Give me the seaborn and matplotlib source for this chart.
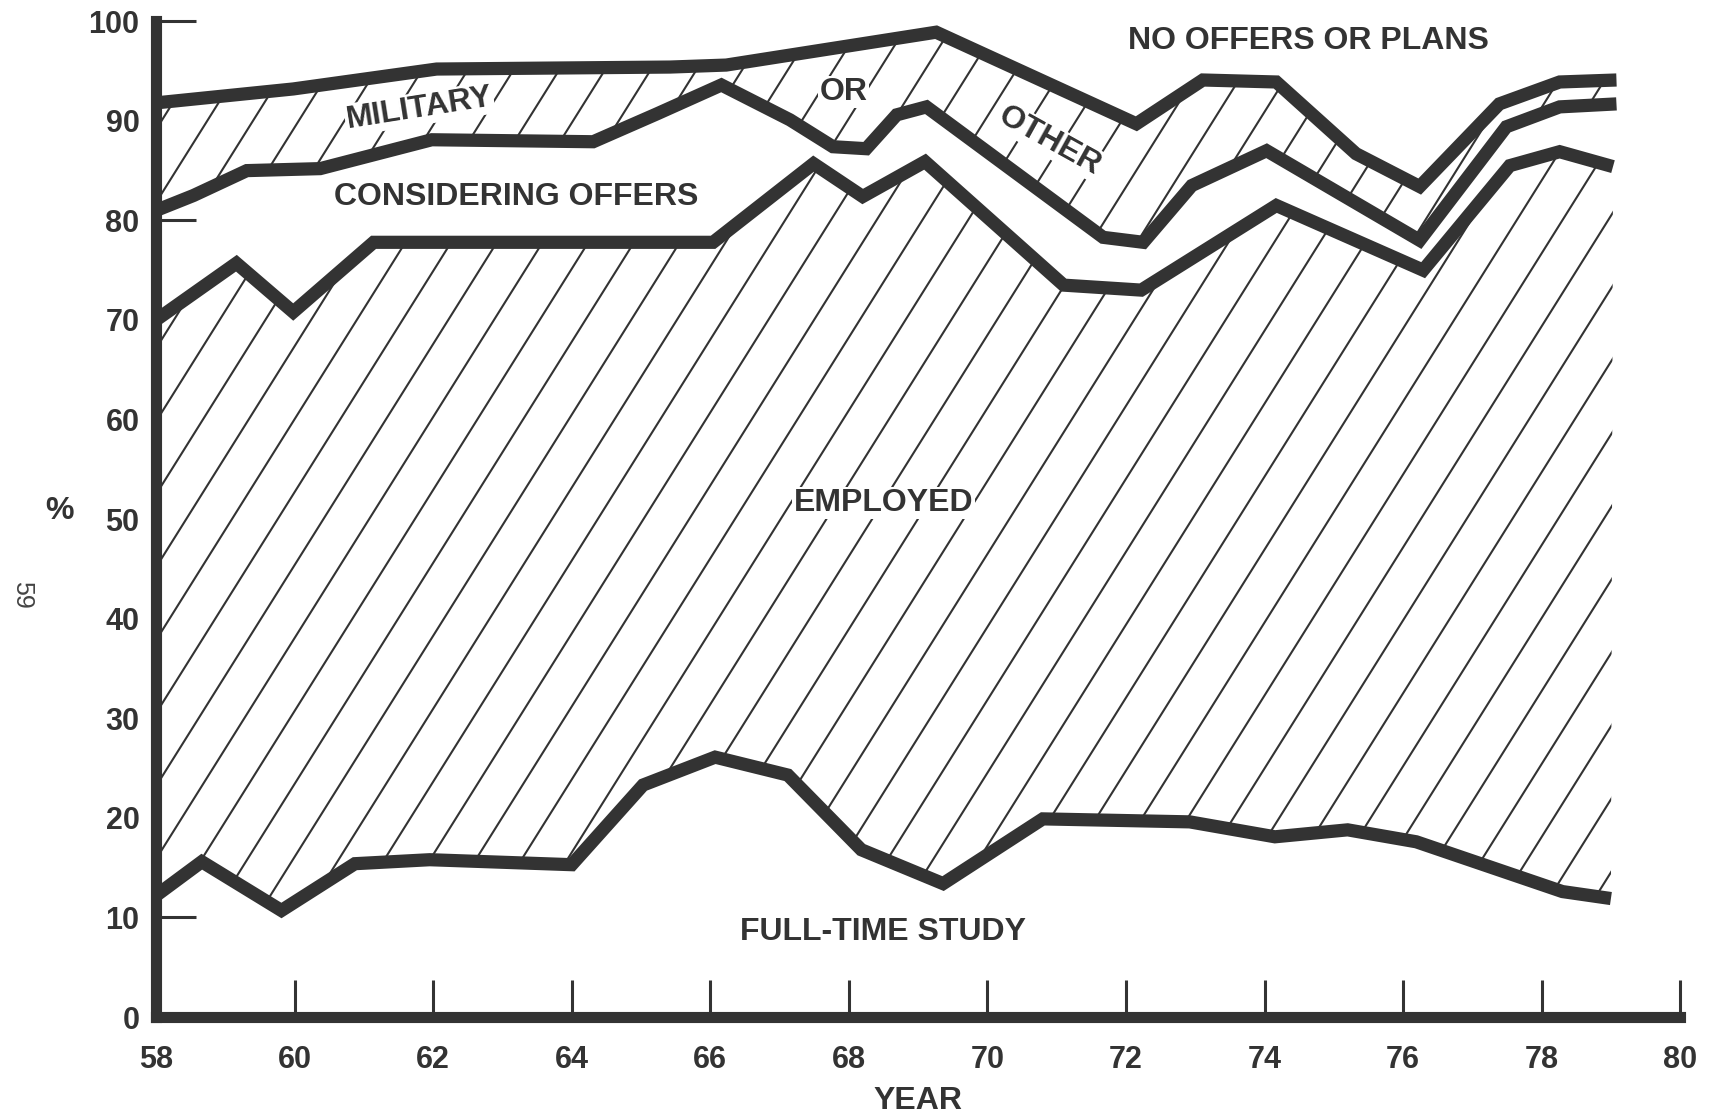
import numpy as np
import matplotlib
matplotlib.use("Agg")
import matplotlib.pyplot as plt
import seaborn as sns
from matplotlib.collections import LineCollection

# boundary lines: (year, cumulative %)
study_year = [58.0, 58.66, 59.81, 60.87, 61.95, 64.0, 65.03, 66.07, 67.12, 68.18,
              69.36, 70.8, 72.92, 74.15, 75.2, 76.19, 78.3, 79.0]
study_pct = [12.2, 15.6, 10.7, 15.4, 15.8, 15.3, 23.3, 26.1, 24.3, 16.8,
             13.4, 19.9, 19.6, 18.1, 18.8, 17.6, 12.6, 11.9]

employed_year = [58.0, 59.16, 59.98, 61.14, 66.04, 67.49, 68.2, 69.1, 71.1, 72.22,
                 74.17, 76.29, 77.54, 78.26, 79.03]
employed_pct = [70.0, 75.7, 70.8, 77.8, 77.8, 85.7, 82.4, 85.9, 73.5, 73.0,
                81.5, 75.0, 85.5, 86.9, 85.4]

offers_year = [58.0, 58.54, 59.31, 60.37, 61.98, 64.31, 65.23, 66.16, 67.15, 67.77,
               68.25, 68.69, 69.12, 71.67, 72.25, 72.95, 74.03, 76.24, 77.49, 78.26, 79.08]
offers_pct = [81.0, 82.5, 85.0, 85.2, 88.1, 87.9, 90.7, 93.6, 90.1, 87.4,
              87.2, 90.6, 91.4, 78.3, 77.8, 83.5, 87.0, 78.0, 89.4, 91.4, 91.7]

top_year = [58.0, 59.98, 62.05, 65.42, 66.23, 69.26, 72.15, 73.11, 74.17, 75.32,
            76.24, 77.39, 78.26, 79.08]
top_pct = [91.8, 93.2, 95.2, 95.4, 95.6, 98.9, 89.7, 94.1, 93.9, 86.7,
           83.4, 91.7, 93.9, 94.1]

year_ticks = list(range(58, 81, 2))
pct_ticks = list(range(0, 101, 10))

ink = "#333333"

sns.set_theme(style="white")
plt.rcParams["font.family"] = ["Liberation Sans", "DejaVu Sans"]

fig = plt.figure(figsize=(17.11, 11.18), dpi=100)
ax = fig.add_axes([0.0912, 0.0903, 0.8908, 0.8907])

# hatched bands: employed and military/other
bands = [
    (employed_year, employed_pct, study_year, study_pct),
    (top_year, top_pct, offers_year, offers_pct),
]
slope = 11.1      # % per year, gives the steep hand-drawn hatch
step = 0.66
starts = np.arange(58 - 100 / slope - 1, 81, step)
for up_x, up_y, lo_x, lo_y in bands:
    poly = ax.fill(np.r_[up_x, lo_x[::-1]], np.r_[up_y, lo_y[::-1]],
                   facecolor="white", edgecolor="none", zorder=1)[0]
    segs = [[(s, 0), (s + 100 / slope, 100)] for s in starts]
    lc = LineCollection(segs, colors=ink, linewidths=1.5, zorder=2)
    ax.add_collection(lc)
    lc.set_clip_path(poly)

for xs, ys in [(study_year, study_pct), (employed_year, employed_pct),
               (offers_year, offers_pct), (top_year, top_pct)]:
    sns.lineplot(x=xs, y=ys, ax=ax, sort=False, estimator=None, color=ink,
                 linewidth=9.5, zorder=4)
for line in ax.lines:
    line.set_solid_capstyle("butt")
    line.set_solid_joinstyle("miter")

ax.set_xlim(58, 80)
ax.set_ylim(0, 100)
ax.set_xticks(year_ticks)
ax.set_yticks(pct_ticks)
ax.set_xticklabels([str(t) for t in year_ticks])
ax.set_yticklabels([str(t) for t in pct_ticks])
ax.tick_params(axis="y", left=True, direction="in", length=29, width=2.2, color=ink,
               pad=12, labelsize=22, labelcolor=ink)
ax.tick_params(axis="x", bottom=True, direction="in", length=27, width=2.2, color=ink,
               pad=20, labelsize=22, labelcolor=ink)
for lab in ax.get_xticklabels() + ax.get_yticklabels():
    lab.set_fontweight("bold")
for side in ["top", "right"]:
    ax.spines[side].set_visible(False)
for side in ["left", "bottom"]:
    ax.spines[side].set_linewidth(8)
    ax.spines[side].set_color(ink)
    ax.spines[side].set_capstyle("projecting")
ax.grid(False)

ax.set_xlabel("YEAR", fontsize=23, fontweight="bold", color=ink, labelpad=8)

lab = dict(fontsize=23, fontweight="bold", color=ink, ha="center", va="center", zorder=5)
box = dict(facecolor="white", edgecolor="none", pad=1)
ax.text(61.8, 91.2, "MILITARY", rotation=9, bbox=box, **lab)
ax.text(67.92, 92.9, "OR", bbox=box, **lab)
ax.text(70.9, 88.0, "OTHER", rotation=-29, bbox=box, **lab)
ax.text(63.2, 82.4, "CONSIDERING OFFERS", **lab)
ax.text(74.64, 98.0, "NO OFFERS OR PLANS", **lab)
ax.text(68.5, 51.6, "EMPLOYED", bbox=box, **lab)
ax.text(68.5, 8.5, "FULL-TIME STUDY", **lab)

fig.text(60 / 1711, 1 - 511 / 1118, "%", fontsize=23, fontweight="bold", color=ink,
         ha="center", va="center")
fig.text(22 / 1711, 1 - 595 / 1118, "59", fontsize=18, color="#444444", rotation=-90,
         ha="center", va="center")

fig.savefig("out.png", dpi=100, facecolor="white")
